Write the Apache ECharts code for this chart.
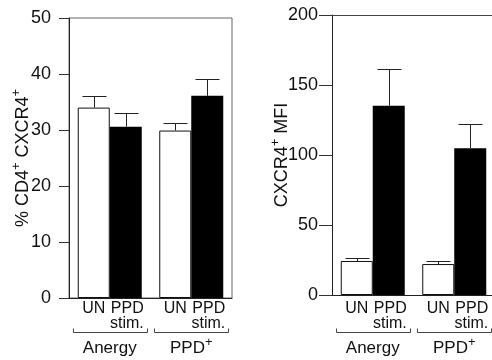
<!DOCTYPE html>
<html>
<head>
<meta charset="utf-8">
<script src="https://cdn.jsdelivr.net/npm/echarts@6/dist/echarts.min.js"></script>
<style>
  html, body { margin: 0; padding: 0; background: #fff; }
  #chart { width: 492px; height: 360px; }
</style>
</head>
<body>
<div id="chart"></div>
<script>
// groups on the x axis, and the two bars inside each group
const groups = ["Anergy", "PPD+"];
const barNames = ["UN", "PPD\nstim."];

// left panel: % CD4+ CXCR4+  (mean, upper error)
const pctUN = [34.0, 29.9];
const pctUNErr = [2.1, 1.4];
const pctStim = [30.6, 36.1];
const pctStimErr = [2.4, 3.0];

// right panel: CXCR4+ MFI
const mfiUN = [24.3, 22.1];
const mfiUNErr = [1.9, 2.4];
const mfiStim = [135.2, 104.8];
const mfiStimErr = [26.4, 17.3];

const FONT = "'Liberation Sans', Arial, sans-serif";
const INK = "#111";
const BAR_W = 32;

const chart = echarts.init(document.getElementById("chart"));

const supRich = {
  sup: { fontSize: 13, lineHeight: 12, verticalAlign: "top", fontFamily: FONT, color: INK },
};

function px(v) {
  return Math.round(v) + 0.5;
}

function errorSeries(gridIdx, values, errs, shift) {
  return {
    type: "custom",
    xAxisIndex: gridIdx,
    yAxisIndex: gridIdx,
    z: 5,
    silent: true,
    data: values.map((v, i) => [i, v, errs[i]]),
    renderItem(params, api) {
      const i = api.value(0);
      const v = api.value(1);
      const e = api.value(2);
      const base = api.coord([i, v]);
      const top = api.coord([i, v + e]);
      const x = px(base[0] + shift);
      const yt = px(top[1]);
      return {
        type: "group",
        children: [
          { type: "line", shape: { x1: x, y1: base[1], x2: x, y2: yt }, style: { stroke: "#222", lineWidth: 1 } },
          { type: "line", shape: { x1: x - 12, y1: yt, x2: x + 12, y2: yt }, style: { stroke: "#222", lineWidth: 1 } },
        ],
      };
    },
  };
}

function labelSeries(gridIdx, yOff) {
  return {
    type: "custom",
    xAxisIndex: gridIdx,
    yAxisIndex: gridIdx,
    silent: true,
    clip: false,
    data: groups.map((g, i) => [i, 0]),
    renderItem(params, api) {
      const i = api.value(0);
      const p = api.coord([i, 0]);
      const cx = p[0];
      const y0 = p[1] + yOff;
      const half = 37;
      const by = px(y0 + 31);
      const txt = { fontFamily: FONT, fontSize: 16, fill: INK, verticalAlign: "top" };
      return {
        type: "group",
        children: [
          { type: "text", x: cx - BAR_W / 2, y: y0, style: Object.assign({}, txt, { text: barNames[0], align: "center" }) },
          { type: "text", x: cx + BAR_W + 2, y: y0, style: Object.assign({}, txt, { text: barNames[1], align: "right", lineHeight: 15 }) },
          {
            type: "polyline",
            shape: { points: [[px(cx - half), by - 4], [px(cx - half), by], [px(cx + half), by], [px(cx + half), by - 4]] },
            style: { stroke: "#444", fill: null, lineWidth: 1 },
          },
          {
            type: "text",
            x: cx,
            y: y0 + 35,
            style: Object.assign({}, txt, {
              text: groups[i].replace("+", "{sup|+}"),
              align: "center",
              fontSize: 17,
              lineHeight: 24,
              rich: supRich,
            }),
          },
        ],
      };
    },
  };
}

function barSeries(gridIdx, values, white) {
  return {
    type: "bar",
    xAxisIndex: gridIdx,
    yAxisIndex: gridIdx,
    barWidth: BAR_W,
    barGap: "0%",
    data: values,
    itemStyle: white
      ? { color: "#fff", borderColor: "#111", borderWidth: 1 }
      : { color: "#000", borderColor: "#000", borderWidth: 0 },
  };
}

function yAxis(gridIdx, ticks, name, gap, tickLen, margin) {
  return {
    type: "value",
    gridIndex: gridIdx,
    min: ticks.min,
    max: ticks.max,
    interval: ticks.interval,
    name: name,
    nameLocation: "middle",
    nameGap: gap,
    nameRotate: 90,
    nameMoveOverlap: false,
    nameTextStyle: { fontFamily: FONT, fontSize: 18, color: INK, lineHeight: 26, rich: supRich },
    axisLine: { show: true, lineStyle: { color: "#222", width: 1 } },
    axisTick: { show: true, inside: false, length: tickLen, lineStyle: { color: "#333", width: 1 } },
    axisLabel: { fontFamily: FONT, fontSize: 18, color: INK, margin: margin },
    splitLine: { show: false },
  };
}

function xAxis(gridIdx, position, color) {
  return {
    type: "category",
    gridIndex: gridIdx,
    position: position,
    data: groups,
    axisLine: { show: true, onZero: false, lineStyle: { color: color, width: 1 } },
    axisTick: { show: false },
    axisLabel: { show: false },
  };
}

chart.setOption({
  animation: false,
  backgroundColor: "#fff",
  grid: [
    { left: 69, top: 18, width: 163, height: 280, show: true, borderColor: "#666", borderWidth: 1, outerBoundsMode: "none" },
    { left: 332, top: 15, width: 163, height: 280, show: false, outerBoundsMode: "none" },
  ],
  xAxis: [xAxis(0, "bottom", "#222"), xAxis(1, "bottom", "#222"), xAxis(1, "top", "#444")],
  yAxis: [
    yAxis(0, { min: 0, max: 50, interval: 10 }, "% CD4{sup|+} CXCR4{sup|+}", 33, 10, 18),
    yAxis(1, { min: 0, max: 200, interval: 50 }, "CXCR4{sup|+} MFI", 37, 13, 14),
  ],
  series: [
    barSeries(0, pctUN, true),
    barSeries(0, pctStim, false),
    errorSeries(0, pctUN, pctUNErr, -BAR_W / 2),
    errorSeries(0, pctStim, pctStimErr, BAR_W / 2),
    labelSeries(0, 3),
    barSeries(1, mfiUN, true),
    barSeries(1, mfiStim, false),
    errorSeries(1, mfiUN, mfiUNErr, -BAR_W / 2),
    errorSeries(1, mfiStim, mfiStimErr, BAR_W / 2),
    labelSeries(1, 6),
  ],
});
</script>
</body>
</html>
